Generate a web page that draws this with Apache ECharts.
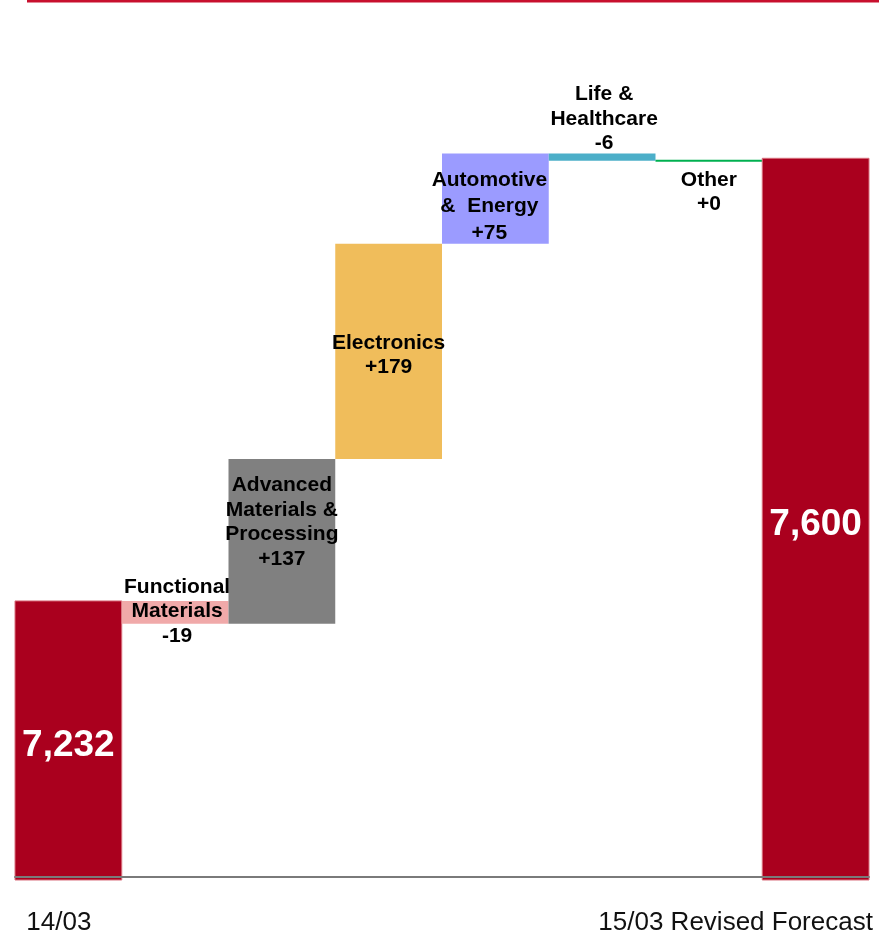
<!DOCTYPE html>
<html>
<head>
<meta charset="utf-8">
<script src="https://cdn.jsdelivr.net/npm/echarts@6/dist/echarts.min.js"></script>
<style>
  html, body { margin: 0; padding: 0; background: #ffffff; }
  #chart { width: 879px; height: 936px; }
</style>
</head>
<body>
<div id="chart"></div>
<script>
// Net sales bridge: 14/03 actual to 15/03 revised forecast
const categories = ['14/03', 'Functional\nMaterials', 'Advanced\nMaterials &\nProcessing', 'Electronics',
  'Automotive\n&  Energy', 'Life &\nHealthcare', 'Other', '15/03 Revised Forecast'];
const startTotal = 7232;
const segmentDeltas = [-19, 137, 179, 75, -6, 0];
const endTotal = 7600;
const tickLabels = ['14/03', '', '', '', '', '', '', '15/03 Revised Forecast'];

const Y_MIN = 7000;
const Y_MAX = 7700;
const FONT = '"Liberation Sans", Arial, Helvetica, sans-serif';

const barColors = ['#AA001E', '#F0A9A9', '#808080', '#F0BD5B', '#9B9BFF', '#4CAFC9', '#00B050', '#AA001E'];

// label placement for each bar
const labelPlace = [
  { position: 'inside', offset: [0, 5], total: true },
  { position: 'inside', offset: [2, -1] },
  { position: 'inside', offset: [0, -19] },
  { position: 'inside', offset: [0, 4] },
  { position: 'inside', offset: [-6, 8], lineHeight: 26.5 },
  { position: 'top', distance: 3, offset: [2, 5] },
  { position: 'bottom', distance: 9, offset: [0, -3] },
  { position: 'inside', offset: [0, 6], total: true }
];

// build [index, low, high] ranges for the waterfall
const rows = [];
rows.push([0, Y_MIN, startTotal]);
let running = startTotal;
segmentDeltas.forEach((d, k) => {
  rows.push([k + 1, running, running + d]);
  running += d;
});
rows.push([categories.length - 1, Y_MIN, endTotal]);

function fmtTotal(v) { return v.toLocaleString('en-US'); }
function fmtDelta(v) { return (v >= 0 ? '+' : '') + v; }

function labelText(i) {
  if (i === 0) return fmtTotal(startTotal);
  if (i === categories.length - 1) return fmtTotal(endTotal);
  return categories[i] + '\n' + fmtDelta(segmentDeltas[i - 1]);
}

function renderItem(params, api) {
  const i = api.value(0);
  const p1 = api.coord([i, api.value(1)]);
  const p2 = api.coord([i, api.value(2)]);
  const w = api.size([1, 0])[0];
  let y = Math.min(p1[1], p2[1]);
  let h = Math.abs(p1[1] - p2[1]);
  if (h < 2) { y = (p1[1] + p2[1]) / 2 - 1; h = 2; }
  const place = labelPlace[i];
  const isTotal = !!place.total;
  return {
    type: 'rect',
    shape: { x: p1[0] - w / 2, y: y, width: w, height: h },
    style: {
      fill: barColors[i],
      stroke: isTotal ? '#D9707E' : null,
      lineWidth: isTotal ? 1 : 0
    },
    textContent: {
      style: {
        text: labelText(i),
        fill: isTotal ? '#ffffff' : '#000000',
        fontFamily: FONT,
        fontWeight: 'bold',
        fontSize: isTotal ? 37 : 21,
        lineHeight: isTotal ? 40 : (place.lineHeight || 24.5),
        align: 'center'
      }
    },
    textConfig: {
      position: place.position,
      distance: place.distance || 0,
      offset: place.offset,
      inside: false
    }
  };
}

const chart = echarts.init(document.getElementById('chart'), null, { renderer: 'canvas' });
chart.setOption({
  animation: false,
  backgroundColor: '#ffffff',
  grid: { left: 15, right: 10, top: 38, bottom: 56, containLabel: false },
  xAxis: {
    type: 'category',
    data: tickLabels,
    boundaryGap: true,
    offset: -3,
    z: 5,
    axisLine: { show: true, lineStyle: { color: '#7A7A7A', width: 2 } },
    axisTick: { show: false },
    axisLabel: {
      interval: 0,
      margin: 33,
      formatter: function (v, idx) {
        if (!v) return '';
        return idx === 0 ? '{first|' + v + '}' : '{last|' + v + '}';
      },
      rich: {
        first: { fontFamily: FONT, fontSize: 26, color: '#111111', padding: [0, 19, 0, 0] },
        last: { fontFamily: FONT, fontSize: 26, color: '#111111', padding: [0, 160, 0, 0] }
      }
    }
  },
  yAxis: {
    type: 'value',
    min: Y_MIN,
    max: Y_MAX,
    show: false,
    splitLine: { show: false }
  },
  graphic: [
    { type: 'rect', left: 27, top: 0, shape: { width: 852, height: 2.5 }, style: { fill: '#C8102E' } }
  ],
  series: [{
    type: 'custom',
    renderItem: renderItem,
    encode: { x: 0, y: [1, 2] },
    data: rows,
    z: 2
  }]
});
</script>
</body>
</html>
